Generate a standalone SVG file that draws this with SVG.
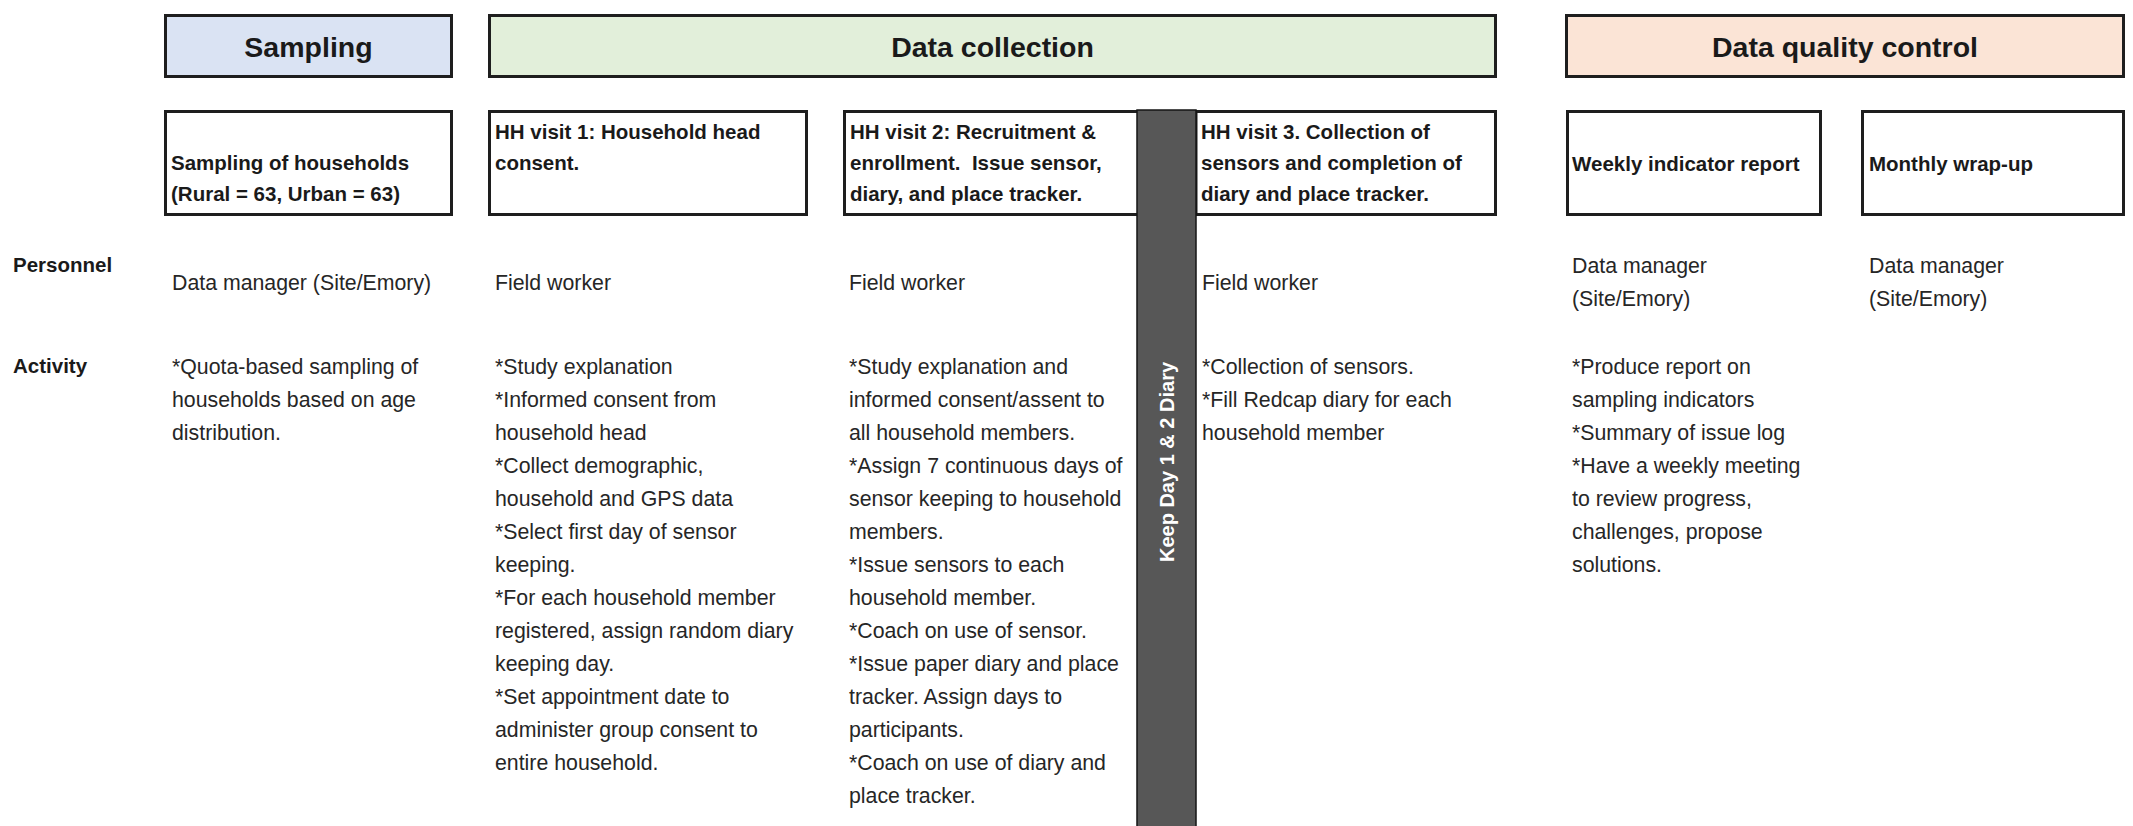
<svg xmlns="http://www.w3.org/2000/svg" width="2133" height="826" viewBox="0 0 2133 826">
<style>
.box{fill:#ffffff;stroke:#1e1e1e;stroke-width:3}
.hdr{font-family:"Liberation Sans",Arial,sans-serif;font-weight:bold;font-size:28.5px;fill:#1a1a1a;text-anchor:middle}
.sub{font-family:"Liberation Sans",Arial,sans-serif;font-weight:bold;font-size:20.5px;fill:#1a1a1a}
.body{font-family:"Liberation Sans",Arial,sans-serif;font-size:21.3px;fill:#262626}
.lbl{font-family:"Liberation Sans",Arial,sans-serif;font-weight:bold;font-size:20.5px;fill:#1a1a1a}
</style>
<rect x="0" y="0" width="2133" height="826" fill="#ffffff"/>

<g id="hdr-sampling">
<rect x="165.5" y="15.5" width="286" height="61" class="box" style="fill:#dae3f3"/>
<text x="308.5" y="57" class="hdr">Sampling</text>
</g>
<g id="hdr-data-collection">
<rect x="489.5" y="15.5" width="1006" height="61" class="box" style="fill:#e2efda"/>
<text x="992.5" y="57" class="hdr">Data collection</text>
</g>
<g id="hdr-dqc">
<rect x="1566.5" y="15.5" width="557" height="61" class="box" style="fill:#fbe4d6"/>
<text x="1845" y="57" class="hdr">Data quality control</text>
</g>

<g id="row-labels">
<text x="13" y="272" class="lbl">Personnel</text>
<text x="13" y="373" class="lbl">Activity</text>
</g>

<g id="col-sampling">
<rect x="165.5" y="111.5" width="286" height="103" class="box"/>
<text class="sub"><tspan x="171" y="170">Sampling of households</tspan><tspan x="171" y="201">(Rural = 63, Urban = 63)</tspan></text>
<text x="172" y="290" class="body">Data manager (Site/Emory)</text>
<text class="body"><tspan x="172" y="374">*Quota-based sampling of</tspan><tspan x="172" y="407">households based on age</tspan><tspan x="172" y="440">distribution.</tspan></text>
</g>

<g id="col-hh1">
<rect x="489.5" y="111.5" width="317" height="103" class="box"/>
<text class="sub"><tspan x="495" y="139">HH visit 1: Household head</tspan><tspan x="495" y="170">consent.</tspan></text>
<text x="495" y="290" class="body">Field worker</text>
<text class="body">
<tspan x="495" y="374">*Study explanation</tspan>
<tspan x="495" y="407">*Informed consent from</tspan>
<tspan x="495" y="440">household head</tspan>
<tspan x="495" y="473">*Collect demographic,</tspan>
<tspan x="495" y="506">household and GPS data</tspan>
<tspan x="495" y="539">*Select first day of sensor</tspan>
<tspan x="495" y="572">keeping.</tspan>
<tspan x="495" y="605">*For each household member</tspan>
<tspan x="495" y="638">registered, assign random diary</tspan>
<tspan x="495" y="671">keeping day.</tspan>
<tspan x="495" y="704">*Set appointment date to</tspan>
<tspan x="495" y="737">administer group consent to</tspan>
<tspan x="495" y="770">entire household.</tspan>
</text>
</g>

<g id="col-hh2">
<rect x="844.5" y="111.5" width="294" height="103" class="box"/>
<text class="sub"><tspan x="850" y="139">HH visit 2: Recruitment &amp;</tspan><tspan x="850" y="170">enrollment.&#160; Issue sensor,</tspan><tspan x="850" y="201">diary, and place tracker.</tspan></text>
<text x="849" y="290" class="body">Field worker</text>
<text class="body">
<tspan x="849" y="374">*Study explanation and</tspan>
<tspan x="849" y="407">informed consent/assent to</tspan>
<tspan x="849" y="440">all household members.</tspan>
<tspan x="849" y="473">*Assign 7 continuous days of</tspan>
<tspan x="849" y="506">sensor keeping to household</tspan>
<tspan x="849" y="539">members.</tspan>
<tspan x="849" y="572">*Issue sensors to each</tspan>
<tspan x="849" y="605">household member.</tspan>
<tspan x="849" y="638">*Coach on use of sensor.</tspan>
<tspan x="849" y="671">*Issue paper diary and place</tspan>
<tspan x="849" y="704">tracker. Assign days to</tspan>
<tspan x="849" y="737">participants.</tspan>
<tspan x="849" y="770">*Coach on use of diary and</tspan>
<tspan x="849" y="803">place tracker.</tspan>
</text>
</g>

<g id="col-hh3">
<rect x="1196" y="111.5" width="299.5" height="103" class="box"/>
<text class="sub"><tspan x="1201" y="139">HH visit 3. Collection of</tspan><tspan x="1201" y="170">sensors and completion of</tspan><tspan x="1201" y="201">diary and place tracker.</tspan></text>
<text x="1202" y="290" class="body">Field worker</text>
<text class="body">
<tspan x="1202" y="374">*Collection of sensors.</tspan>
<tspan x="1202" y="407">*Fill Redcap diary for each</tspan>
<tspan x="1202" y="440">household member</tspan>
</text>
</g>

<g id="keep-diary-bar">
<rect x="1137" y="110" width="59" height="718" fill="#575757" stroke="#151515" stroke-width="1.5"/>
<text transform="translate(1167,462) rotate(-90)" y="7" style="font-family:'Liberation Sans',Arial,sans-serif;font-weight:bold;font-size:20px;fill:#ffffff;text-anchor:middle">Keep Day 1 &amp; 2 Diary</text>
</g>

<g id="col-weekly">
<rect x="1567.5" y="111.5" width="253" height="103" class="box"/>
<text x="1572" y="171" class="sub">Weekly indicator report</text>
<text class="body"><tspan x="1572" y="273">Data manager</tspan><tspan x="1572" y="306">(Site/Emory)</tspan></text>
<text class="body">
<tspan x="1572" y="374">*Produce report on</tspan>
<tspan x="1572" y="407">sampling indicators</tspan>
<tspan x="1572" y="440">*Summary of issue log</tspan>
<tspan x="1572" y="473">*Have a weekly meeting</tspan>
<tspan x="1572" y="506">to review progress,</tspan>
<tspan x="1572" y="539">challenges, propose</tspan>
<tspan x="1572" y="572">solutions.</tspan>
</text>
</g>

<g id="col-monthly">
<rect x="1862.5" y="111.5" width="261" height="103" class="box"/>
<text x="1869" y="171" class="sub">Monthly wrap-up</text>
<text class="body"><tspan x="1869" y="273">Data manager</tspan><tspan x="1869" y="306">(Site/Emory)</tspan></text>
</g>

<g id="connectors"></g>
</svg>
